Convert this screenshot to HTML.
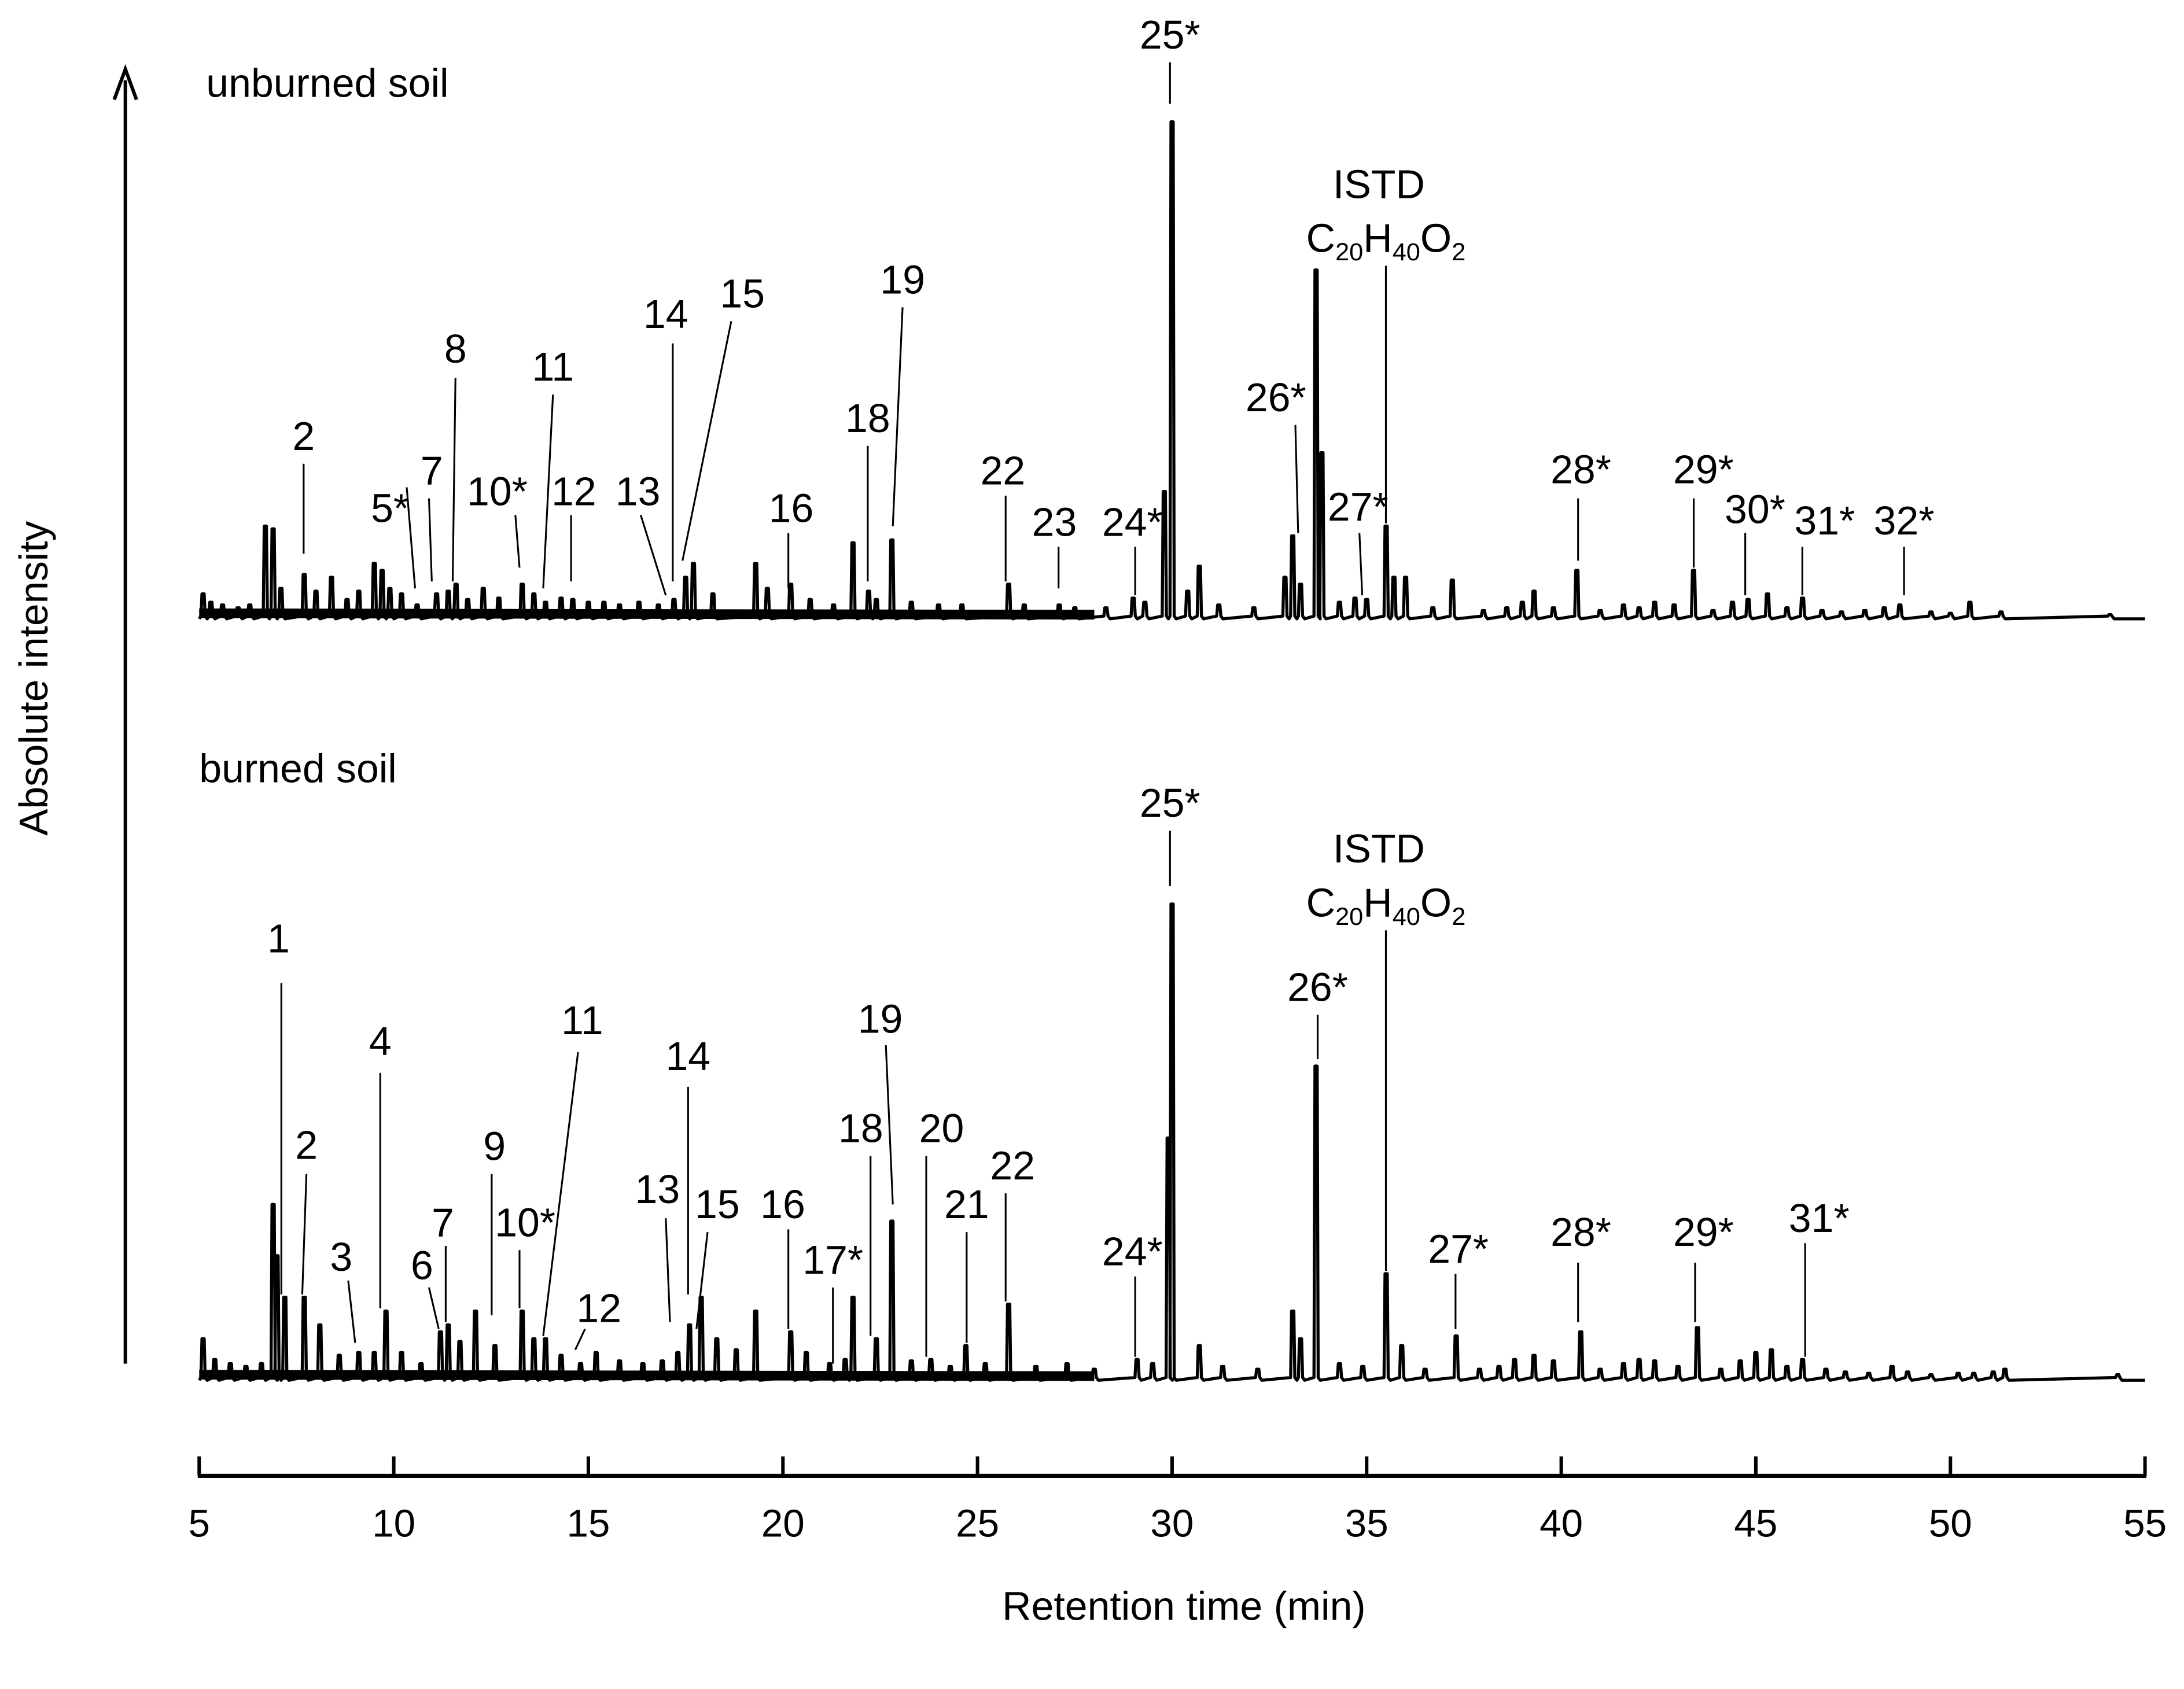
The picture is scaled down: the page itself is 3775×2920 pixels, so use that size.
<!DOCTYPE html>
<html><head><meta charset="utf-8"><style>
html,body{margin:0;padding:0;background:#fff;}
svg{display:block;}
text{font-family:"Liberation Sans",Arial,sans-serif;fill:#000;}
</style></head><body>
<svg id="chart" width="3775" height="2920" viewBox="0 0 1568 1220" preserveAspectRatio="none" xmlns="http://www.w3.org/2000/svg">
<g id="axes"></g>
<g id="traceU"></g>
<g id="traceB"></g>
<g id="labels"></g>
</svg>
<script>
// ---- data ----
const xTicks = [5,10,15,20,25,30,35,40,45,50,55];
const unburnedTimes = [5.1,5.3,5.6,6.0,6.3,6.7,6.9,7.1,7.7,8.0,8.4,8.8,9.1,9.5,9.7,9.9,10.2,10.6,11.1,11.4,11.6,11.9,12.3,12.7,13.3,13.6,13.9,14.3,14.6,15.0,15.4,15.8,16.3,16.8,17.2,17.5,17.7,18.2,19.3,19.6,20.2,20.7,21.3,21.8,22.2,22.4,22.8,23.3,24.0,24.6,25.8,26.2,27.1,27.5,28.3,29.0,29.3,29.8,30.0,30.4,30.7,31.2,32.1,32.9,33.1,33.3,33.7,33.85,34.3,34.7,35.0,35.5,35.7,36.0,36.7,37.2,38.0,38.6,39.0,39.3,39.8,40.4,41.0,41.6,42.0,42.4,42.9,43.4,43.9,44.4,44.8,45.3,45.8,46.2,46.7,47.2,47.8,48.3,48.7,49.5,50.0,50.5,51.3,54.1];
const unburnedHeights = [18,12,10,8,10,67,65,22,32,20,30,14,20,40,35,22,18,10,18,20,25,14,22,15,25,18,12,15,14,12,12,10,12,10,14,30,40,18,40,22,25,14,10,55,20,14,57,12,10,10,25,10,10,8,8,15,12,92,359,20,38,10,8,30,60,25,252,120,12,15,14,67,30,30,8,28,6,8,12,20,8,35,6,10,8,12,10,35,6,12,14,18,8,15,6,5,6,8,10,5,4,12,5,3];
const burnedTimes = [5.1,5.4,5.8,6.2,6.6,6.9,7.0,7.2,7.7,8.1,8.6,9.1,9.5,9.8,10.2,10.7,11.2,11.4,11.7,12.1,12.6,13.3,13.6,13.9,14.3,14.8,15.2,15.8,16.4,16.9,17.3,17.6,17.9,18.3,18.8,19.3,20.2,20.6,21.2,21.6,21.8,22.4,22.8,23.3,23.8,24.3,24.7,25.2,25.8,26.5,27.3,28.0,29.1,29.5,29.9,30.0,30.7,31.3,32.2,33.1,33.3,33.7,34.3,34.9,35.5,35.9,36.5,37.3,37.9,38.4,38.8,39.3,39.8,40.5,41.0,41.6,42.0,42.4,43.0,43.5,44.1,44.6,45.0,45.4,45.8,46.2,46.8,47.3,47.9,48.5,48.9,49.5,50.2,50.6,51.1,51.4,54.3];
const burnedHeights = [30,15,12,10,12,127,90,60,60,40,18,20,20,50,20,12,35,40,28,50,25,50,30,30,18,12,20,14,12,14,20,40,60,30,22,50,35,20,12,15,60,30,115,14,15,10,25,12,55,10,12,8,15,12,175,344,25,10,8,50,30,227,12,10,77,25,8,32,8,10,15,18,14,35,8,12,15,14,10,38,8,14,20,22,10,15,8,6,5,10,6,4,5,5,6,8,4];
const unburnedLabels = ["2","5*","7","8","10*","11","12","13","14","15","16","18","19","22","23","24*","25*","26*","27*","28*","29*","30*","31*","32*"];
const burnedLabels = ["1","2","3","4","6","7","9","10*","11","12","13","14","15","16","17*","18","19","20","21","22","24*","25*","26*","27*","28*","29*","31*"];
const uLay = [[218,325,218,335,218,400],[280,377,292,352,298,425],[310,350,308,360,310,420],[327,262,327,273,325,420],[357,365,370,372,373,410],[397,275,397,285,390,425],[412,365,410,372,410,420],[458,365,460,372,478,430],[478,237,483,248,483,420],[533,222,525,232,490,405],[568,377,566,385,566,425],[623,312,623,322,623,420],[648,212,648,222,641,380],[720,350,722,358,722,420],[757,387,760,395,760,425],[813,387,815,395,815,430],[840,35,840,45,840,75],[916,297,930,307,932,385],[975,376,976,385,978,430],[1135,349,1133,360,1133,405],[1223,349,1216,360,1216,410],[1260,378,1253,385,1253,430],[1310,386,1294,395,1294,430],[1367,386,1367,395,1367,430]];
const bLay = [[200,688,202,710,202,935],[220,837,220,848,217,935],[245,918,250,925,255,970],[273,762,273,775,273,945],[303,924,308,930,315,960],[318,893,320,900,320,955],[355,838,353,848,353,950],[377,893,373,903,373,945],[418,747,415,760,390,965],[430,955,420,960,413,975],[472,869,478,880,481,955],[494,773,494,785,494,935],[515,880,508,890,500,960],[562,880,566,888,566,960],[598,920,598,930,598,985],[618,825,625,835,625,965],[632,746,636,755,641,870],[676,825,665,835,665,980],[694,880,694,890,694,970],[727,852,722,862,722,940],[813,914,815,922,815,980],[840,590,840,600,840,640],[946,723,946,733,946,765],[1047,912,1045,920,1045,960],[1135,900,1133,912,1133,955],[1223,900,1217,912,1217,955],[1306,890,1296,898,1296,980]];

const NS="http://www.w3.org/2000/svg";
const X0=143, X1=1540;
function xScale(t){return X0+(t-5)*(X1-X0)/50;}
function mk(tag,attrs,parent){const e=document.createElementNS(NS,tag);for(const k in attrs)e.setAttribute(k,attrs[k]);parent.appendChild(e);return e;}
const axes=document.getElementById('axes');
let el=mk('line',{x1:90,y1:985,x2:90,y2:58,stroke:'#000','stroke-width':2.5},axes);


el=mk('path',{d:'M82,72 L90,50 L98,72',fill:'none',stroke:'#000','stroke-width':2.5},axes);


el=mk('text',{x:0,y:0,'font-size':29,'text-anchor':'middle',transform:'translate(34,490) rotate(-90)'},axes);
el.textContent='Absolute intensity';


el=mk('line',{x1:X0-1,y1:1066,x2:X1+1,y2:1066,stroke:'#000','stroke-width':3},axes);


xTicks.forEach(t=>{
  const x=xScale(t);
  let tk=mk('line',{x1:x,y1:1052,x2:x,y2:1066,stroke:'#000','stroke-width':2.5},axes);
  
  
  let tl=mk('text',{x:x,y:1110,'font-size':28,'text-anchor':'middle'},axes);
  tl.textContent=t;
  
  
});
el=mk('text',{x:850,y:1170,'font-size':29,'text-anchor':'middle'},axes);
el.textContent='Retention time (min)';


el=mk('text',{x:148,y:70,'font-size':29},axes);
el.textContent='unburned soil';


el=mk('text',{x:143,y:565,'font-size':29},axes);
el.textContent='burned soil';



function drawTrace(g,times,heights,base,endT){
  let d='M'+X0+','+base;
  const idx=times.map((t,i)=>i).sort((a,b)=>times[a]-times[b]);
  idx.forEach(i=>{const x=xScale(times[i]);d+=' L'+(x-1.5)+','+(base-2)+' L'+(x-0.8)+','+(base-heights[i])+' L'+(x+0.8)+','+(base-heights[i])+' L'+(x+1.5)+','+(base-2)+' L'+(x+3)+','+base;});
  d+=' L'+xScale(endT)+','+base;
  const p=mk('path',{d:d,fill:'none',stroke:'#000','stroke-width':2.2,'stroke-linejoin':'round'},g);
  
  
  const n=mk('line',{x1:X0,y1:base-4,x2:xScale(28),y2:base-3,stroke:'#000','stroke-width':7},g);
  
  
}
drawTrace(document.getElementById('traceU'),unburnedTimes,unburnedHeights,447,55);
drawTrace(document.getElementById('traceB'),burnedTimes,burnedHeights,997,55);

const lg=document.getElementById('labels');
function drawLabels(names,lay){
  names.forEach((n,i)=>{
    const L=lay[i];
    const t=mk('text',{x:L[0],y:L[1],'font-size':29,'text-anchor':'middle'},lg);
    t.textContent=n;
    
    
    const ln=mk('line',{x1:L[2],y1:L[3],x2:L[4],y2:L[5],stroke:'#000','stroke-width':1.3},lg);
    
    
  });
}
drawLabels(unburnedLabels,uLay);
drawLabels(burnedLabels,bLay);
function istd(y,lineTop,lineBot){
  let t=mk('text',{x:990,y:y,'font-size':29,'text-anchor':'middle'},lg);
  t.textContent='ISTD';
  
  
  t=mk('text',{x:995,y:y+39,'font-size':29,'text-anchor':'middle'},lg);
  t.innerHTML='C<tspan font-size="18" dy="6">20</tspan><tspan dy="-6">H</tspan><tspan font-size="18" dy="6">40</tspan><tspan dy="-6">O</tspan><tspan font-size="18" dy="6">2</tspan>';
  
  
  const ln=mk('line',{x1:995,y1:lineTop,x2:995,y2:lineBot,stroke:'#000','stroke-width':1.3},lg);
  
  
}
istd(143,192,378);
istd(623,672,918);
</script>
</body></html>
